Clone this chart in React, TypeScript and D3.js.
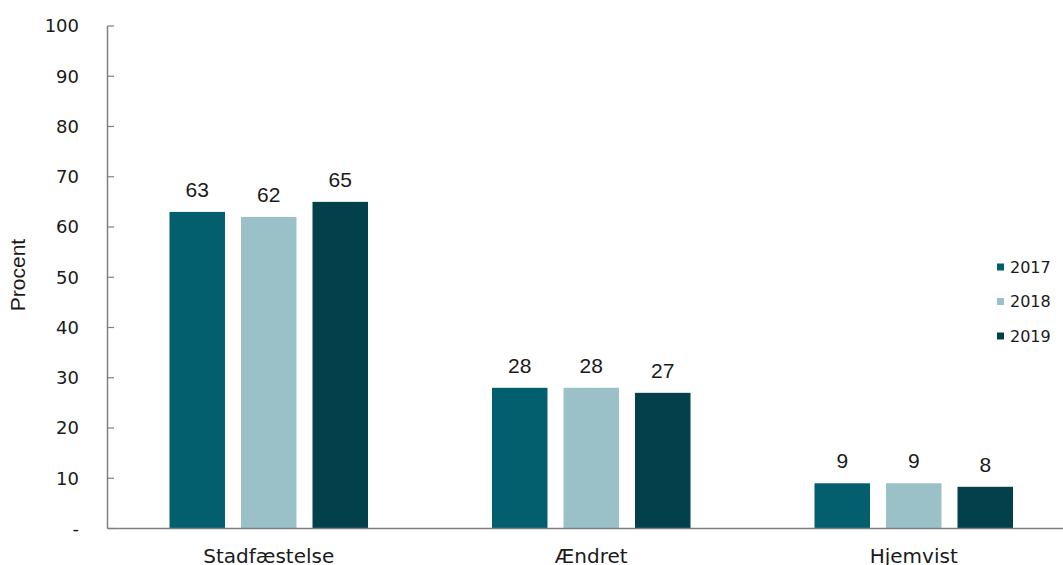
import React from "react";
import * as d3 from "d3";

const categories = ["Stadfæstelse", "Ændret", "Hjemvist"];
const series = ["2017", "2018", "2019"];
const values2017 = [63, 28, 9];
const values2018 = [62, 28, 9];
const values2019 = [65, 27, 8.3];
const yTicks = [0, 10, 20, 30, 40, 50, 60, 70, 80, 90, 100];
const colors = ["#035f6e", "#9bc1c8", "#02404b"];

const W = 1063;
const H = 565;

export default function App() {
  const data = [values2017, values2018, values2019];
  const y = d3.scaleLinear().domain([0, 100]).range([528.5, 26]);
  const x0 = d3.scaleBand<string>().domain(categories).range([107.5, 1075]).paddingInner(0).paddingOuter(0);
  const groupW = 198.5;
  const x1 = d3.scaleBand<string>().domain(series).range([0, groupW]).paddingInner(0.224).paddingOuter(0);
  const fmt = d3.format(".0f");
  const tickFont = "DejaVu Sans, Verdana, sans-serif";
  const labelFont = "Liberation Sans, Arial, sans-serif";

  return (
    <svg width={W} height={H} style={{ position: "absolute", left: 0, top: 0, background: "#fff" }}>
      {/* bars */}
      {categories.map((c, ci) => {
        const gx = (x0(c) as number) + x0.bandwidth() / 2 - groupW / 2;
        return series.map((s, si) => {
          const v = data[si][ci];
          const bx = gx + (x1(s) as number);
          return (
            <g key={c + s}>
              <rect x={bx} y={y(v)} width={x1.bandwidth()} height={y(0) - y(v)} fill={colors[si]} />
              <text
                x={bx + x1.bandwidth() / 2}
                y={y(v) - 15}
                textAnchor="middle"
                fontFamily={labelFont}
                fontSize={21}
                fill="#1a1a1a"
              >
                {fmt(v)}
              </text>
            </g>
          );
        });
      })}
      {/* axes */}
      <line x1={107.5} x2={107.5} y1={y(100)} y2={y(0)} stroke="#808080" strokeWidth={1.5} />
      <line x1={107.5} x2={1063} y1={y(0)} y2={y(0)} stroke="#808080" strokeWidth={1.5} />
      {yTicks.map((t) => (
        <g key={t}>
          <line x1={107.5} x2={114} y1={y(t)} y2={y(t)} stroke="#808080" strokeWidth={1.2} />
          <text
            x={79}
            y={y(t)}
            dy="0.35em"
            textAnchor="end"
            fontFamily={tickFont}
            fontSize={18}
            fill="#1a1a1a"
          >
            {t === 0 ? "-" : t}
          </text>
        </g>
      ))}
      <text
        transform={`translate(25,${275}) rotate(-90)`}
        textAnchor="middle"
        fontFamily={labelFont}
        fontSize={21}
        fill="#1a1a1a"
      >
        Procent
      </text>
      {/* category labels */}
      {categories.map((c) => (
        <text
          key={c}
          x={(x0(c) as number) + x0.bandwidth() / 2}
          y={563}
          textAnchor="middle"
          fontFamily={tickFont}
          fontSize={20}
          fill="#1a1a1a"
        >
          {c}
        </text>
      ))}
      {/* legend */}
      {series.map((s, i) => (
        <g key={s} transform={`translate(997,${267 + i * 34.5})`}>
          <rect x={0} y={-3.5} width={7} height={7} fill={colors[i]} />
          <text x={13} y={0} dy="0.35em" fontFamily={tickFont} fontSize={16} fill="#1a1a1a">
            {s}
          </text>
        </g>
      ))}
    </svg>
  );
}
